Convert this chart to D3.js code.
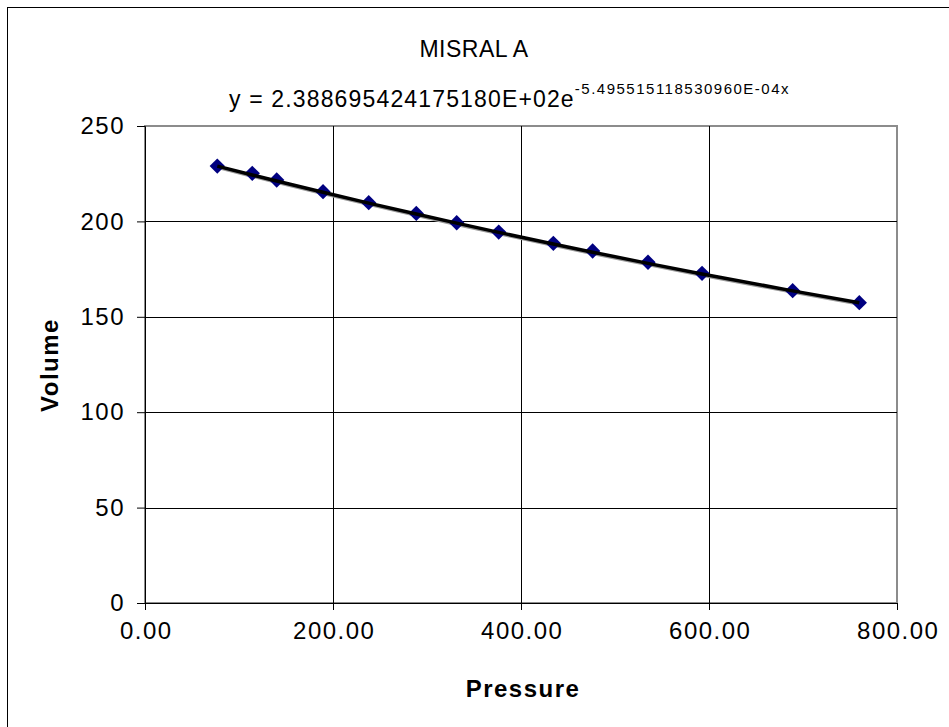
<html>
<head>
<title>MISRAL A</title>
<style>
body { margin: 0; background: #fff; }
svg text { font-family: Arial, "Liberation Sans", sans-serif; fill: #000; }
.tick-label { font-size: 24px; letter-spacing: 1.5px; }
.axis-title { font-size: 24px; font-weight: bold; letter-spacing: 1.5px; }
</style>
</head>
<body>
<svg id='plot' width='949' height='727'></svg>
<script src='https://cdn.jsdelivr.net/npm/d3@7/dist/d3.min.js'></script>
<script>
// Data
const pressure = [76.9, 114.1, 140.1, 189.4, 238.0, 288.6, 331.6, 376.3, 434.4, 476.2, 535.1, 592.6, 689.0, 759.9];
const volume   = [229.0, 225.2, 221.7, 215.6, 209.8, 204.2, 199.3, 194.4, 188.5, 184.5, 178.6, 172.8, 163.7, 157.4];

// Fitted exponential trendline coefficients, as printed on the chart
const fitA = 2.388695424175180E+02;
const fitB = -5.495515118530960E-04;

const xTicks = [0, 200, 400, 600, 800];
const yTicks = [0, 50, 100, 150, 200, 250];

const svg = d3.select('#plot');

// Left/top edges of the chart frame (right/bottom run off the picture)
svg.append('rect')
  .attr('x', 7.5).attr('y', 7.5)
  .attr('width', 960).attr('height', 740)
  .attr('fill', 'none').attr('stroke', '#000').attr('stroke-width', 1);

const x = d3.scaleLinear().domain([0, 800]).range([145, 897]);
const y = d3.scaleLinear().domain([0, 250]).range([603, 126]);

// plot area border
svg.append('rect')
  .attr('x', x(0)).attr('y', y(250))
  .attr('width', x(800) - x(0)).attr('height', y(0) - y(250))
  .attr('fill', 'none').attr('stroke', '#8c8c8c').attr('stroke-width', 2);

// gridlines
svg.append('g')
  .selectAll('line')
  .data(yTicks.filter(d => d > 0 && d < 250))
  .join('line')
  .attr('x1', x(0)).attr('x2', x(800))
  .attr('y1', d => Math.round(y(d)) + 0.5).attr('y2', d => Math.round(y(d)) + 0.5)
  .attr('stroke', '#000').attr('stroke-width', 1);

svg.append('g')
  .selectAll('line')
  .data(xTicks.filter(d => d > 0 && d < 800))
  .join('line')
  .attr('y1', y(0)).attr('y2', y(250))
  .attr('x1', d => Math.round(x(d)) + 0.5).attr('x2', d => Math.round(x(d)) + 0.5)
  .attr('stroke', '#000').attr('stroke-width', 1);

// axes
const xAxis = d3.axisBottom(x).tickValues(xTicks).tickSize(7).tickPadding(12)
  .tickFormat(d3.format('.2f'));
const yAxis = d3.axisLeft(y).tickValues(yTicks).tickSize(8).tickPadding(12);

const gx = svg.append('g').attr('transform', `translate(0,${y(0)})`).call(xAxis);
const gy = svg.append('g').attr('transform', `translate(${x(0)},0)`).call(yAxis);
[gx, gy].forEach(g => {
  g.attr('font-size', null).attr('font-family', null);
  g.select('.domain').attr('stroke', '#000');
  g.selectAll('.tick line').attr('stroke', '#000');
  g.selectAll('.tick text').attr('class', 'tick-label');
});
gx.selectAll('.tick text').attr('dx', '0.75px');

// trendline
const trend = pressure.map(p => [p, fitA * Math.exp(fitB * p)]);
const line = d3.line().x(d => x(d[0])).y(d => y(d[1]));
svg.append('path')
  .datum(trend)
  .attr('d', line)
  .attr('transform', 'translate(0.5,1.5)')
  .attr('fill', 'none').attr('stroke', '#9a9a9a').attr('stroke-width', 3);

// markers
svg.append('g')
  .selectAll('path')
  .data(pressure.map((p, i) => [p, volume[i]]))
  .join('path')
  .attr('d', d3.symbol(d3.symbolDiamond2, 150))
  .attr('transform', d => `translate(${x(d[0])},${y(d[1])})`)
  .attr('fill', '#000080');

svg.append('path')
  .datum(trend)
  .attr('d', line)
  .attr('fill', 'none').attr('stroke', '#000').attr('stroke-width', 3.5);

// titles
svg.append('text')
  .attr('x', 474).attr('y', 57)
  .attr('text-anchor', 'middle')
  .style('font-size', '23px')
  .style('letter-spacing', '0.5px')
  .text('MISRAL A');

const eq = svg.append('text')
  .attr('x', 229).attr('y', 107)
  .style('font-size', '23px')
  .style('letter-spacing', '1.15px');
eq.append('tspan').text('y = 2.388695424175180E+02e');
eq.append('tspan').attr('dy', -13)
  .style('font-size', '15px').style('letter-spacing', '1.5px')
  .text('-5.495515118530960E-04x');

svg.append('text')
  .attr('class', 'axis-title')
  .attr('x', 523).attr('y', 697)
  .attr('text-anchor', 'middle')
  .text('Pressure');

svg.append('text')
  .attr('class', 'axis-title')
  .attr('transform', 'translate(58,365) rotate(-90)')
  .attr('text-anchor', 'middle')
  .text('Volume');
</script>
</body>
</html>
